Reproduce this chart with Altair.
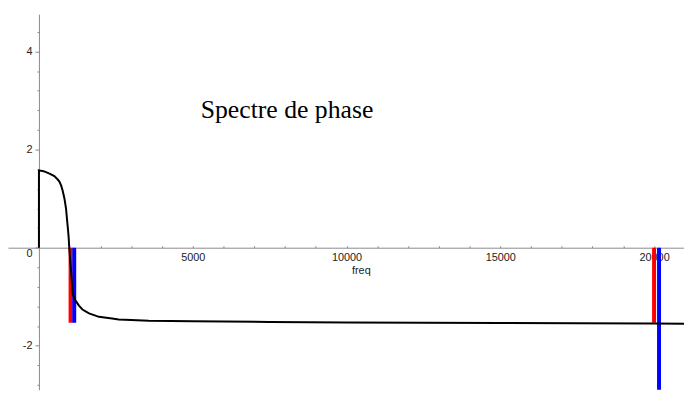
import altair as alt
import pandas as pd

# ---- data ----
freq = [0, 0, 150, 344, 500, 610, 665, 720, 772, 830, 880, 932, 964, 986,
        1015, 1041, 1070, 1100, 1150, 1202, 1300, 1414, 1629, 1950, 2378,
        2593, 3000, 3570, 5000, 7500, 10000, 12500, 15000, 17500, 20000, 20973]
phase = [0, 1.577, 1.56, 1.51, 1.46, 1.39, 1.35, 1.27, 1.16, 1.0, 0.80, 0.45,
         0.23, 0.0, -0.25, -0.44, -0.70, -0.95, -1.03, -1.09, -1.18, -1.26,
         -1.34, -1.41, -1.445, -1.465, -1.475, -1.49, -1.50, -1.515, -1.525,
         -1.53, -1.535, -1.54, -1.545, -1.55]

red_freq = [1028, 20000]
red_low = [-1.53, -1.53]
blue_freq = [1147, 20161]
blue_low = [-1.53, -3.5]

x_major = [5000, 10000, 15000, 20000]
x_minor = [1000, 2000, 3000, 4000, 5000, 6000, 7000, 8000, 9000, 10000,
           11000, 12000, 13000, 14000, 15000, 16000, 17000, 18000, 19000,
           20000]
y_ticks = [-2.8, -2.4, -2.0, -1.6, -1.2, -0.8, -0.4, 0.0, 0.4, 0.8, 1.2, 1.6,
           2.0, 2.4, 2.8, 3.2, 3.6, 4.0, 4.4]

title_text = "Spectre de phase"
x_title = "freq"

x_domain = [-1006, 20973]
y_domain = [-2.897, 4.762]

W, H = 684, 380

curve_df = pd.DataFrame({"freq": freq, "phase": phase})
bars_df = pd.DataFrame({
    "freq": red_freq + blue_freq,
    "phase": [0.0] * 4,
    "low": red_low + blue_low,
    "series": ["red"] * 2 + ["blue"] * 2,
})
title_df = pd.DataFrame({"t": [title_text]})

# axis offsets so axes cross at the origin
x_axis_from_bottom = H * (0 - y_domain[0]) / (y_domain[1] - y_domain[0])
y_axis_from_left = W * (0 - x_domain[0]) / (x_domain[1] - x_domain[0])

xs = alt.Scale(domain=x_domain, nice=False, zero=False)
ys = alt.Scale(domain=y_domain, nice=False, zero=False)

AX_COLOR = "#8a8a8a"
LBL_COLOR = "#222222"
FONT = "Liberation Sans"

is_major_y = "abs(datum.value - 2*round(datum.value/2)) < 0.01"

y_axis = alt.Axis(
    values=y_ticks,
    orient="left",
    offset=-y_axis_from_left,
    domainColor=AX_COLOR,
    tickColor=AX_COLOR,
    tickSize={"condition": {"test": is_major_y, "value": 4}, "value": 2},
    labelExpr=f"({is_major_y}) ? ((datum.value < 0 ? '-' : '') + abs(round(datum.value))) : ''",
    labelBaseline={"condition": {"test": "abs(datum.value) < 0.01", "value": "top"},
                   "value": "middle"},
    labelFont=FONT,
    labelFontSize=11,
    labelColor=LBL_COLOR,
    labelPadding=3,
    labelFlush=False,
    labelOverlap=False,
    grid=False,
    title=None,
)

x_axis_bottom = alt.Axis(
    values=x_major,
    format="d",
    orient="bottom",
    offset=-x_axis_from_bottom,
    domainColor=AX_COLOR,
    tickSize=0,
    labelFont=FONT,
    labelFontSize=11,
    labelColor=LBL_COLOR,
    labelPadding=4,
    labelFlush=False,
    grid=False,
    title=x_title,
    titleFont=FONT,
    titleFontSize=11,
    titleFontWeight="normal",
    titleColor=LBL_COLOR,
    titleX=357,
    titleY=26,
    titleBaseline="alphabetic",
    titleAlign="center",
)

x_axis_top = alt.Axis(
    values=x_minor,
    orient="top",
    offset=-(H - x_axis_from_bottom),
    domain=False,
    tickColor=AX_COLOR,
    tickSize=2,
    labels=False,
    grid=False,
    title=None,
)

bars = alt.Chart(bars_df).mark_rule(strokeWidth=4, clip=True).encode(
    x=alt.X("freq:Q", scale=xs, axis=x_axis_top),
    y=alt.Y("phase:Q", scale=ys, axis=y_axis),
    y2="low:Q",
    color=alt.Color("series:N",
                    scale=alt.Scale(domain=["red", "blue"], range=["#ff0000", "#0000ff"]),
                    legend=None),
)

curve = alt.Chart(curve_df).mark_line(color="black", strokeWidth=2, clip=True).encode(
    x=alt.X("freq:Q", scale=xs, axis=x_axis_bottom),
    y=alt.Y("phase:Q", scale=ys, axis=y_axis),
    order=alt.Order("idx:Q"),
).transform_window(idx="row_number()")

title = alt.Chart(title_df).mark_text(
    font="Liberation Serif", fontSize=26, color="black",
    align="left", baseline="alphabetic",
).encode(
    x=alt.value(195), y=alt.value(105), text="t:N",
)

chart = alt.layer(bars, curve, title).resolve_axis(x="independent").properties(
    width=W, height=H,
    autosize=alt.AutoSizeParams(type="none"),
    padding={"left": 0, "top": 4, "right": 0, "bottom": 0},
    background="white",
).configure_view(stroke=None)

chart.save("out.html", embed_options={"renderer": "svg", "actions": False})
